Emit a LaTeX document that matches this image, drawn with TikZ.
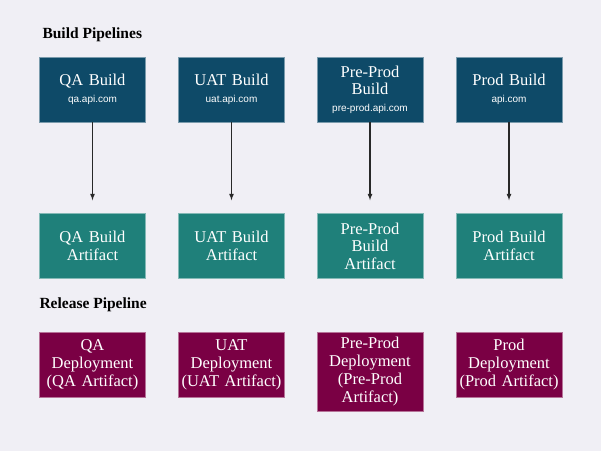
\documentclass[tikz,border=0pt]{standalone}
\usepackage{fontspec}
\usepackage{xcolor}
\usepackage{tikz}
\usetikzlibrary{arrows}
\setmainfont{Liberation Serif}
\newfontfamily\hostfont{Liberation Sans}
\definecolor{bgpage}{RGB}{240, 239, 245}
\definecolor{dblue}{RGB}{14, 74, 104}
\definecolor{lteal}{RGB}{31, 128, 122}
\definecolor{dmaroon}{RGB}{122, 0, 68}
\definecolor{darrow}{RGB}{40, 40, 40}
\def\buildCol{dblue}
\def\artifactCol{lteal}
\def\releaseCol{dmaroon}
\newcommand{\host}[1]{\\[-1pt]{\hostfont\fontsize{10}{11}\selectfont #1}}
\tikzset{>=latex}
\tikzset{
  stagebox/.style={fill=#1, draw=#1!55!white, line width=0.5pt, text=white,
    text width=102pt, inner xsep=2pt, inner ysep=5pt, minimum height=65pt,
    align=center, font=\fontsize{16.5}{18}\selectfont},
  heading/.style={anchor=west, font=\bfseries\fontsize{15.5}{17}\selectfont},
  flow/.style={->, draw=darrow, line width=1.2pt, shorten >=13pt}
}

\begin{document}
\begin{tikzpicture}[x=1pt, y=-1pt]
  \fill[bgpage] (0, 0) rectangle (601, 451);
  % build pipelines
  \node[heading] (buildTitle) at (39, 35){Build Pipelines};
  \node[stagebox=\buildCol] (qaBuild) at (92.5, 89.5){QA Build\host{qa.api.com}};
  \node[stagebox=\buildCol] (uatBuild) at (231.5, 89.5){UAT Build\host{uat.api.com}};
  \node[stagebox=\buildCol] (preBuild) at (370, 89.5){Pre-Prod\\[-1pt]Build\host{pre-prod.api.com}};
  \node[stagebox=\buildCol] (prodBuild) at (509, 89.5){Prod Build\host{api.com}};
  % artifacts
  \node[stagebox=\artifactCol] (qaArt) at (92.5, 246){QA Build\\Artifact};
  \node[stagebox=\artifactCol] (uatArt) at (231.5, 246){UAT Build\\Artifact};
  \node[stagebox=\artifactCol] (preArt) at (370, 246){Pre-Prod\\[-0.5pt]Build\\[-0.5pt]Artifact};
  \node[stagebox=\artifactCol] (prodArt) at (509, 246){Prod Build\\Artifact};
  \draw[flow] (qaBuild) -- (qaArt);
  \draw[flow] (uatBuild) -- (uatArt);
  \draw[flow] (preBuild) -- (preArt);
  \draw[flow] (prodBuild) -- (prodArt);
  % release pipeline
  \node[heading] (releaseTitle) at (36, 305){Release Pipeline};
  \node[stagebox=\releaseCol, anchor=north] (qaRel) at (92.5, 332){QA\\Deployment\\(QA Artifact)};
  \node[stagebox=\releaseCol, anchor=north] (uatRel) at (231.5, 332){UAT\\Deployment\\(UAT Artifact)};
  \node[stagebox=\releaseCol, anchor=north] (preRel) at (370, 332){Pre-Prod\\Deployment\\(Pre-Prod\\Artifact)};
  \node[stagebox=\releaseCol, anchor=north] (prodRel) at (509, 332){Prod\\Deployment\\(Prod Artifact)};
\end{tikzpicture}
\end{document}
